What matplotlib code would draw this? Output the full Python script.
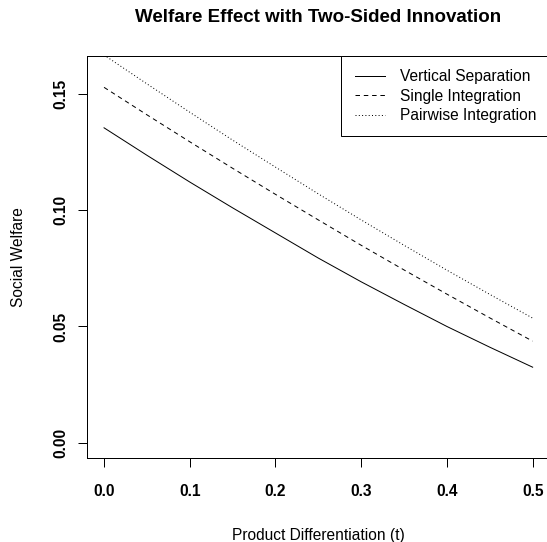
import matplotlib
matplotlib.use("Agg")
import matplotlib.pyplot as plt

# ---- data ----
t_vals = [0.00, 0.05, 0.10, 0.15, 0.20, 0.25, 0.30, 0.35, 0.40, 0.45, 0.50]
vertical_separation = [0.1354, 0.1236, 0.1121, 0.1010, 0.0902, 0.0794, 0.0692, 0.0595, 0.0500, 0.0411, 0.0325]
single_integration = [0.1528, 0.1410, 0.1294, 0.1180, 0.1068, 0.0958, 0.0849, 0.0743, 0.0639, 0.0537, 0.0437]
pairwise_integration = [0.1667, 0.1543, 0.1421, 0.1301, 0.1185, 0.1070, 0.0958, 0.0849, 0.0742, 0.0638, 0.0536]
series_labels = ["Vertical Separation", "Single Integration", "Pairwise Integration"]
x_ticks = [0.0, 0.1, 0.2, 0.3, 0.4, 0.5]
x_tick_labels = ["0.0", "0.1", "0.2", "0.3", "0.4", "0.5"]
y_ticks = [0.00, 0.05, 0.10, 0.15]
y_tick_labels = ["0.00", "0.05", "0.10", "0.15"]
title = "Welfare Effect with Two-Sided Innovation"
x_label = "Product Differentiation (t)"
y_label = "Social Welfare"

plt.rcParams["font.family"] = ["Liberation Sans", "DejaVu Sans"]

W, H = 547, 542
fig = plt.figure(figsize=(W / 72, H / 72), dpi=72)
fig.patch.set_facecolor("white")

left_px, right_px, top_px, bottom_px = 86.9, 549.8, 55.7, 457.7
ax = fig.add_axes([left_px / W, 1 - bottom_px / H, (right_px - left_px) / W, (bottom_px - top_px) / H])
ax.set_xlim(-0.02, 0.52)
ax.set_ylim(-0.0064, 0.1664)

fs = 15.5
l1, = ax.plot(t_vals, vertical_separation, color="black", lw=1.0, linestyle="-", label=series_labels[0])
l2, = ax.plot(t_vals, single_integration, color="black", lw=1.0, linestyle=(0, (4.5, 3.8)), label=series_labels[1])
l3, = ax.plot(t_vals, pairwise_integration, color="black", lw=1.0, linestyle=(0, (1.0, 2.3)), label=series_labels[2])

for s in ax.spines.values():
    s.set_linewidth(1.0)
    s.set_color("black")

ax.set_xticks(x_ticks)
ax.set_xticklabels(x_tick_labels, fontsize=fs, fontweight="bold")
ax.set_yticks(y_ticks)
ax.set_yticklabels(y_tick_labels, fontsize=fs, fontweight="bold", rotation=90, va="center")
ax.tick_params(axis="x", direction="out", length=9.3, width=1.0, pad=17, colors="black")
ax.tick_params(axis="y", direction="out", length=9.3, width=1.0, pad=9, colors="black")

leg = ax.legend(handles=[l1, l2, l3], loc="upper right", bbox_to_anchor=(1, 1),
                borderaxespad=0, frameon=True, fancybox=False, edgecolor="black",
                framealpha=1, fontsize=fs, handlelength=30 / fs, handletextpad=15 / fs,
                borderpad=0.87, labelspacing=0.284)
leg.get_frame().set_linewidth(1.0)

fig.text((left_px + right_px) / 2 / W, 1 - 22.5 / H, title, ha="center", va="baseline",
         fontsize=18.7, fontweight="bold")
fig.text((left_px + right_px) / 2 / W, 1 - 540 / H, x_label, ha="center", va="baseline", fontsize=fs)
fig.text(18.8 / W, 1 - (top_px + bottom_px) / 2 / H, y_label, ha="center", va="center",
         rotation=90, fontsize=fs)

fig.savefig("out.png", dpi=72)
